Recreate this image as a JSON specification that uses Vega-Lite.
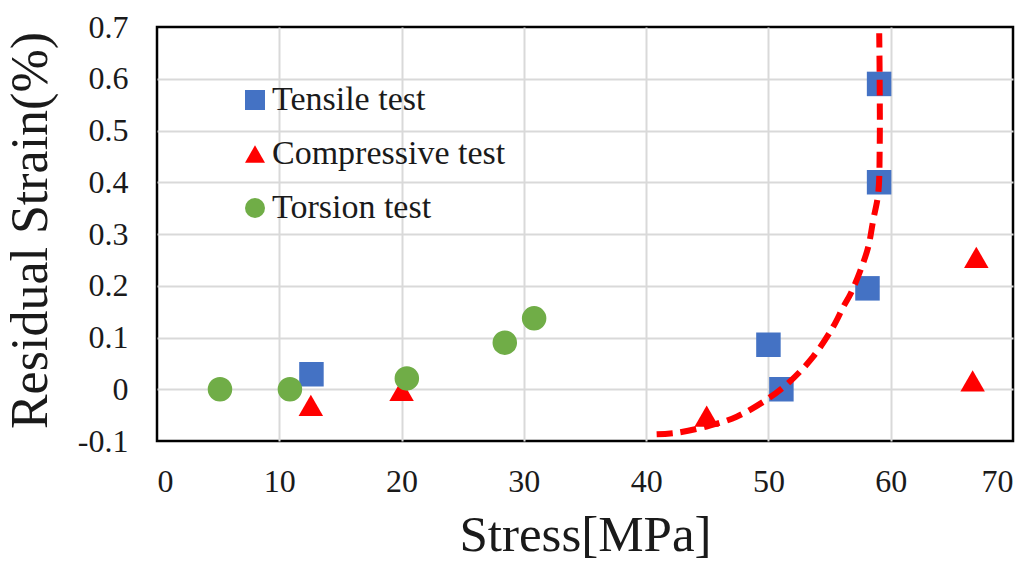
{
  "$schema": "https://vega.github.io/schema/vega-lite/v6.json",
  "width": 856,
  "height": 414,
  "autosize": {"type": "none"},
  "padding": {"left": 157, "top": 27, "right": 20, "bottom": 121},
  "background": "white",
  "config": {
    "font": "Liberation Serif",
    "view": {"stroke": "black", "strokeWidth": 2.5},
    "axis": {
      "grid": true,
      "gridColor": "#D9D9D9",
      "gridWidth": 2,
      "ticks": false,
      "domain": false,
      "labelFont": "Liberation Serif",
      "labelColor": "#1a1a1a",
      "titleFont": "Liberation Serif",
      "titleColor": "#1a1a1a",
      "titleFontWeight": "normal"
    },
    "legend": {
      "labelFont": "Liberation Serif",
      "labelColor": "#1a1a1a"
    }
  },
  "datasets": {
    "points": [
      {"series": "Tensile test", "stress": 12.63, "strain": 0.029},
      {"series": "Tensile test", "stress": 50.0, "strain": 0.086},
      {"series": "Tensile test", "stress": 51.06, "strain": 0.0},
      {"series": "Tensile test", "stress": 58.1, "strain": 0.195},
      {"series": "Tensile test", "stress": 59.05, "strain": 0.4},
      {"series": "Tensile test", "stress": 59.05, "strain": 0.59},
      {"series": "Compressive test", "stress": 12.58, "strain": -0.031},
      {"series": "Compressive test", "stress": 20.0, "strain": -0.002},
      {"series": "Compressive test", "stress": 44.95, "strain": -0.052},
      {"series": "Compressive test", "stress": 66.7, "strain": 0.016},
      {"series": "Compressive test", "stress": 67.0, "strain": 0.255},
      {"series": "Torsion test", "stress": 5.15, "strain": 0.0},
      {"series": "Torsion test", "stress": 10.87, "strain": 0.0},
      {"series": "Torsion test", "stress": 20.43, "strain": 0.021},
      {"series": "Torsion test", "stress": 28.44, "strain": 0.09},
      {"series": "Torsion test", "stress": 30.84, "strain": 0.137}
    ],
    "fit": [
      {"i": 1, "stress": 40.86, "strain": -0.087},
      {"i": 2, "stress": 42.5, "strain": -0.084},
      {"i": 3, "stress": 44.94, "strain": -0.072},
      {"i": 4, "stress": 47.4, "strain": -0.053},
      {"i": 5, "stress": 49.98, "strain": -0.018},
      {"i": 6, "stress": 51.76, "strain": 0.015},
      {"i": 7, "stress": 53.66, "strain": 0.063},
      {"i": 8, "stress": 55.3, "strain": 0.121},
      {"i": 9, "stress": 56.12, "strain": 0.159},
      {"i": 10, "stress": 56.73, "strain": 0.185},
      {"i": 11, "stress": 57.48, "strain": 0.227},
      {"i": 12, "stress": 58.16, "strain": 0.275},
      {"i": 13, "stress": 58.57, "strain": 0.327},
      {"i": 14, "stress": 58.98, "strain": 0.379},
      {"i": 15, "stress": 59.1, "strain": 0.469},
      {"i": 16, "stress": 59.1, "strain": 0.585},
      {"i": 17, "stress": 59.06, "strain": 0.688}
    ]
  },
  "layer": [
    {
      "data": {"name": "points"},
      "mark": {"type": "point", "filled": true, "opacity": 1, "size": 600, "strokeWidth": 0},
      "encoding": {
        "x": {
          "field": "stress",
          "type": "quantitative",
          "scale": {"domain": [0, 70], "nice": false, "zero": false},
          "axis": {
            "values": [0, 10, 20, 30, 40, 50, 60, 70],
            "title": "Stress[MPa]",
            "labelFont": "Liberation Serif",
            "labelFontSize": 32,
            "labelPadding": 25,
            "titleFontSize": 51,
            "titleBaseline": "alphabetic",
            "titleY": 109,
            "gridOpacity": {"condition": {"test": "datum.value <= 0 || datum.value >= 70", "value": 0}, "value": 1}
          }
        },
        "y": {
          "field": "strain",
          "type": "quantitative",
          "scale": {"domain": [-0.1, 0.7], "nice": false, "zero": false},
          "axis": {
            "values": [-0.1, 0, 0.1, 0.2, 0.3, 0.4, 0.5, 0.6, 0.7],
            "labelExpr": "datum.value == 0 ? '0' : replace(format(datum.value, '.1f'), '\u2212', '-')",
            "title": "Residual Strain(%)",
            "labelFont": "Liberation Serif",
            "labelFontSize": 32,
            "labelPadding": 29,
            "titleFontSize": 52,
            "titleBaseline": "alphabetic",
            "titleX": -111,
            "titleY": 203,
            "gridOpacity": {"condition": {"test": "datum.value <= -0.099 || datum.value >= 0.699", "value": 0}, "value": 1}
          }
        },
        "color": {
          "field": "series",
          "type": "nominal",
          "scale": {
            "domain": ["Tensile test", "Compressive test", "Torsion test"],
            "range": ["#4472C4", "#FF0000", "#70AD47"]
          },
          "legend": {
            "title": null,
            "orient": "none",
            "legendX": 81,
            "legendY": 56,
            "labelFont": "Liberation Serif",
            "labelFontSize": 34,
            "labelLimit": 400,
            "symbolSize": 400,
            "symbolStrokeWidth": 0,
            "rowPadding": 20,
            "labelOffset": 0
          }
        },
        "shape": {
          "field": "series",
          "type": "nominal",
          "scale": {
            "domain": ["Tensile test", "Compressive test", "Torsion test"],
            "range": ["square", "triangle-up", "circle"]
          },
          "legend": null
        }
      }
    },
    {
      "data": {"name": "fit"},
      "mark": {
        "type": "line",
        "color": "#FF0000",
        "strokeWidth": 6,
        "strokeDash": [16, 8],
        "strokeCap": "butt",
        "interpolate": "catmull-rom",
        "clip": true
      },
      "encoding": {
        "x": {"field": "stress", "type": "quantitative"},
        "y": {"field": "strain", "type": "quantitative"},
        "order": {"field": "i", "type": "quantitative"}
      }
    }
  ]
}
